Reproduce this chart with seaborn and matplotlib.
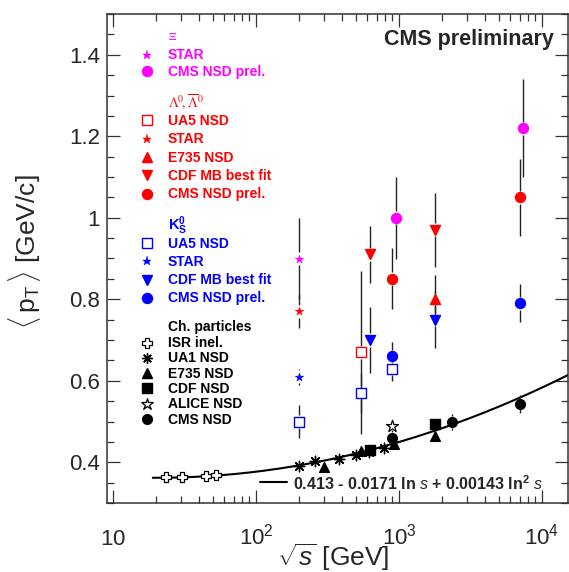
import numpy as np
import matplotlib
matplotlib.use("Agg")
import matplotlib.pyplot as plt
import seaborn as sns
from matplotlib.ticker import FixedLocator, FuncFormatter, MultipleLocator, NullFormatter

# ---------------- data ----------------
# charged particles
isr_sqrts = [23.5, 30.6, 44.6, 52.8]
isr_pt = [0.363, 0.364, 0.367, 0.368]
ua1_sqrts = [200, 260, 380, 500, 620, 790]
ua1_pt = [0.390, 0.403, 0.408, 0.419, 0.425, 0.436]
e735_sqrts = [300, 546, 930, 1800]
e735_pt = [0.389, 0.428, 0.446, 0.464]
cdf_sqrts = [630, 1800]
cdf_pt = [0.430, 0.493]
alice_sqrts = [900]
alice_pt = [0.488]
cms_sqrts = [900, 2360, 7000]
cms_pt = [0.460, 0.499, 0.544]
cms_err = [0.02, 0.02, 0.022]

# Xi
xi_star_sqrts = [200]
xi_star_pt = [0.90]
xi_star_err = [0.10]
xi_cms_sqrts = [960, 7400]
xi_cms_pt = [1.00, 1.22]
xi_cms_err = [0.10, 0.12]

# Lambda
lam_ua5_sqrts = [546]
lam_ua5_pt = [0.67]
lam_ua5_err = [0.20]
lam_star_sqrts = [200]
lam_star_pt = [0.77]
lam_star_err = [0.04]
lam_e735_sqrts = [1800]
lam_e735_pt = [0.80]
lam_e735_err = [0.06]
lam_cdf_sqrts = [630, 1800]
lam_cdf_pt = [0.91, 0.97]
lam_cdf_err = [0.07, 0.09]
lam_cms_sqrts = [900, 7000]
lam_cms_pt = [0.85, 1.05]
lam_cms_err = [0.075, 0.095]

# K0s
k_ua5_sqrts = [200, 546, 900]
k_ua5_pt = [0.50, 0.57, 0.63]
k_ua5_err = [0.04, 0.05, 0.03]
k_star_sqrts = [200]
k_star_pt = [0.61]
k_star_err = [0.02]
k_cdf_sqrts = [630, 1800]
k_cdf_pt = [0.70, 0.75]
k_cdf_err = [0.08, 0.07]
k_cms_sqrts = [900, 7000]
k_cms_pt = [0.66, 0.79]
k_cms_err = [0.035, 0.047]

# fit  <pT> = a + b ln s + c ln^2 s
fit_coef = [0.413, -0.0171, 0.00143]
fit_range = [19, 15200]

xi_labels = ["STAR", "CMS NSD prel."]
lam_labels = ["UA5 NSD", "STAR", "E735 NSD", "CDF MB best fit", "CMS NSD prel."]
k_labels = ["UA5 NSD", "STAR", "CDF MB best fit", "CMS NSD prel."]
ch_labels = ["ISR inel.", "UA1 NSD", "E735 NSD", "CDF NSD", "ALICE NSD", "CMS NSD"]

# ---------------- style ----------------
sns.set_theme(style="ticks")
plt.rcParams['font.family'] = ['Liberation Sans', 'DejaVu Sans']
plt.rcParams['mathtext.fontset'] = 'custom'
plt.rcParams['mathtext.rm'] = 'Liberation Sans'
plt.rcParams['mathtext.it'] = 'Liberation Sans:italic'
plt.rcParams['mathtext.bf'] = 'Liberation Sans:bold'

W, H = 569, 572
def fx(px):
    return px / W
def fy(py):
    return 1 - py / H

fig = plt.figure(figsize=(W / 100, H / 100), dpi=100)
ax = fig.add_axes([fx(107), fy(503), (568 - 107) / W, (503 - 14) / H])
ax.set_facecolor('white')

MAG, RED, BLUE, BLK = '#ff00ff', '#ff0000', '#0000ff', '#000000'
ECOL = '#222222'

def errs(xs, ys, es, gap=0.016):
    for x, y, e in zip(xs, ys, es):
        if e > gap:
            ax.vlines([x, x], [y + gap, y - e], [y + e, y - gap],
                      colors=ECOL, lw=1.0, zorder=3)

def pts(xs, ys, marker, color, ms, face=None, lw=1.0, z=5):
    sns.scatterplot(x=xs, y=ys, marker=marker, s=ms ** 2, ax=ax,
                    facecolor=(color if face is None else face),
                    edgecolor=color, linewidth=lw, zorder=z)

ax.set_xscale('log')

# fit curve
fit_x = np.geomspace(fit_range[0], fit_range[1], 300)
ln_s = np.log(fit_x ** 2)
fit_y = fit_coef[0] + fit_coef[1] * ln_s + fit_coef[2] * ln_s ** 2
sns.lineplot(x=fit_x, y=fit_y, color='black', lw=1.5, ax=ax, zorder=2)

# error bars
errs(xi_star_sqrts, xi_star_pt, xi_star_err)
errs(xi_cms_sqrts, xi_cms_pt, xi_cms_err)
errs(lam_ua5_sqrts, lam_ua5_pt, lam_ua5_err)
errs(lam_star_sqrts, lam_star_pt, lam_star_err)
errs(lam_e735_sqrts, lam_e735_pt, lam_e735_err)
errs(lam_cdf_sqrts, lam_cdf_pt, lam_cdf_err)
errs(lam_cms_sqrts, lam_cms_pt, lam_cms_err)
errs(k_ua5_sqrts, k_ua5_pt, k_ua5_err)
errs(k_star_sqrts, k_star_pt, k_star_err)
errs(k_cdf_sqrts, k_cdf_pt, k_cdf_err)
errs(k_cms_sqrts, k_cms_pt, k_cms_err)
errs(cms_sqrts, cms_pt, cms_err, gap=0.014)

# markers
ASTER = (8, 2, 0)
pts(isr_sqrts, isr_pt, 'P', BLK, 6.6, face='white', lw=0.9)
pts(ua1_sqrts, ua1_pt, ASTER, BLK, 7.5, lw=1.0)
pts(e735_sqrts, e735_pt, '^', BLK, 7)
pts(cdf_sqrts, cdf_pt, 's', BLK, 6.8)
pts(alice_sqrts, alice_pt, '*', BLK, 9, face='white', lw=0.9)
pts(cms_sqrts, cms_pt, 'o', BLK, 7.0)

pts(xi_star_sqrts, xi_star_pt, '*', MAG, 6.5, lw=0.3)
pts(xi_cms_sqrts, xi_cms_pt, 'o', MAG, 7.2)
pts(lam_ua5_sqrts, lam_ua5_pt, 's', RED, 6.5, face='white', lw=1.0)
pts(lam_star_sqrts, lam_star_pt, '*', RED, 6.5, lw=0.3)
pts(lam_e735_sqrts, lam_e735_pt, '^', RED, 7.2)
pts(lam_cdf_sqrts, lam_cdf_pt, 'v', RED, 7.2)
pts(lam_cms_sqrts, lam_cms_pt, 'o', RED, 7.2)
pts(k_ua5_sqrts, k_ua5_pt, 's', BLUE, 6.5, face='white', lw=1.0)
pts(k_star_sqrts, k_star_pt, '*', BLUE, 6.5, lw=0.3)
pts(k_cdf_sqrts, k_cdf_pt, 'v', BLUE, 7.2)
pts(k_cms_sqrts, k_cms_pt, 'o', BLUE, 7.2)

# axes
ax.set_xlim(9.08, 15200)
ax.set_ylim(0.3, 1.5)
ax.set_xlabel('')
ax.set_ylabel('')
ax.xaxis.set_major_locator(FixedLocator([10, 100, 1000, 10000]))
minors = [m * 10 ** e for e in range(1, 5) for m in range(2, 10)]
ax.xaxis.set_minor_locator(FixedLocator(minors))
ax.xaxis.set_minor_formatter(NullFormatter())

def xfmt(v, pos):
    e = int(round(np.log10(v)))
    return r"$\mathregular{10}$" if e == 1 else r"$\mathregular{10^{%d}}$" % e
ax.xaxis.set_major_formatter(FuncFormatter(xfmt))
ax.yaxis.set_major_locator(FixedLocator([0.4, 0.6, 0.8, 1.0, 1.2, 1.4]))
ax.yaxis.set_minor_locator(MultipleLocator(0.05))
ax.yaxis.set_major_formatter(FuncFormatter(lambda v, p: "%g" % v))

for sp in ax.spines.values():
    sp.set_visible(True)
    sp.set_linewidth(1.1)
    sp.set_color('#333333')
ax.tick_params(which='both', direction='in', top=True, right=True,
               color='#333333', width=0.9)
ax.tick_params(which='major', length=9.4, labelsize=16)
ax.tick_params(which='minor', length=4.7)
ax.tick_params(axis='y', which='major', pad=5)
ax.tick_params(axis='x', which='major', pad=30)
for lbl in ax.get_xticklabels():
    lbl.set_va('baseline')

# axis titles
fig.text(fx(25), fy(252), r"$\langle\,\mathregular{p_{T}}\,\rangle$ [GeV/c]",
         rotation=90, ha='center', va='center', fontsize=19)
fig.text(fx(333), fy(566), r"$\sqrt{s}$ [GeV]", ha='center', va='baseline',
         fontsize=19)

# CMS preliminary
fig.text(fx(554), fy(45), "CMS preliminary", ha='right', va='baseline',
         fontsize=15.5, fontweight='bold')

# legend
MX, TX = 146.7, 168

def leg_marker(base, marker, color, ms, face=None, mew=1.0):
    ax.plot([fx(MX)], [fy(base - 4.7)], marker=marker, ms=ms, ls='none',
            mfc=(color if face is None else face), mec=color, mew=mew,
            color=color, transform=fig.transFigure, clip_on=False)

def leg_text(base, s, color):
    fig.text(fx(TX), fy(base), s, color=color, fontsize=10, fontweight='bold',
             ha='left', va='baseline')

# Xi
fig.text(fx(TX), fy(39.5), r"$\Xi$", color=MAG, fontsize=8, math_fontfamily='stix',
         ha='left', va='baseline')
xi_base = [59.3, 76.0]
xi_marks = [('*', 6.5, None, 0.3), ('o', 7.2, None, 1.0)]
for b, lab, (mk, ms, fc, mw) in zip(xi_base, xi_labels, xi_marks):
    leg_marker(b, mk, MAG, ms, fc, mw)
    leg_text(b, lab, MAG)

# Lambda
fig.text(fx(TX), fy(107.3), r"$\Lambda^{0}\!,\overline{\Lambda}^{0}$", color=RED,
         fontsize=10, math_fontfamily='stix', ha='left', va='baseline')
lam_base = [125.0, 143.3, 161.7, 180.0, 198.3]
lam_marks = [('s', 6.5, 'white', 1.0), ('*', 6.5, None, 0.3), ('^', 7.2, None, 1.0),
             ('v', 7.2, None, 1.0), ('o', 7.2, None, 1.0)]
for b, lab, (mk, ms, fc, mw) in zip(lam_base, lam_labels, lam_marks):
    leg_marker(b, mk, RED, ms, fc, mw)
    leg_text(b, lab, RED)

# K0s
fig.text(fx(TX), fy(230), r"$\mathbf{K^{0}_{S}}$", color=BLUE, fontsize=10.5,
         ha='left', va='baseline')
k_base = [248.0, 266.0, 284.3, 302.3]
k_marks = [('s', 6.5, 'white', 1.0), ('*', 6.5, None, 0.3), ('v', 7.2, None, 1.0),
           ('o', 7.2, None, 1.0)]
for b, lab, (mk, ms, fc, mw) in zip(k_base, k_labels, k_marks):
    leg_marker(b, mk, BLUE, ms, fc, mw)
    leg_text(b, lab, BLUE)

# charged
leg_text(331.0, "Ch. particles", BLK)
ch_base = [347.3, 362.5, 377.7, 392.7, 408.3, 423.7]
ch_marks = [('P', 6.6, 'white', 0.9), (ASTER, 7.5, None, 1.0), ('^', 7, None, 1.0),
            ('s', 6.8, None, 1.0), ('*', 9, 'white', 0.9), ('o', 7.0, None, 1.0)]
for b, lab, (mk, ms, fc, mw) in zip(ch_base, ch_labels, ch_marks):
    leg_marker(b, mk, BLK, ms, fc, mw)
    leg_text(b, lab, BLK)

# fit legend
ax.plot([fx(260), fx(287)], [fy(482), fy(482)], color='black', lw=1.5,
        transform=fig.transFigure, clip_on=False)
fig.text(fx(293), fy(490),
         r"0.413 - 0.0171 ln $\mathit{s}$ + 0.00143 ln$^{\mathbf{2}}$ $\mathit{s}$",
         fontsize=11.5, fontweight='bold', ha='left', va='baseline')

fig.savefig("out.png", dpi=100)
